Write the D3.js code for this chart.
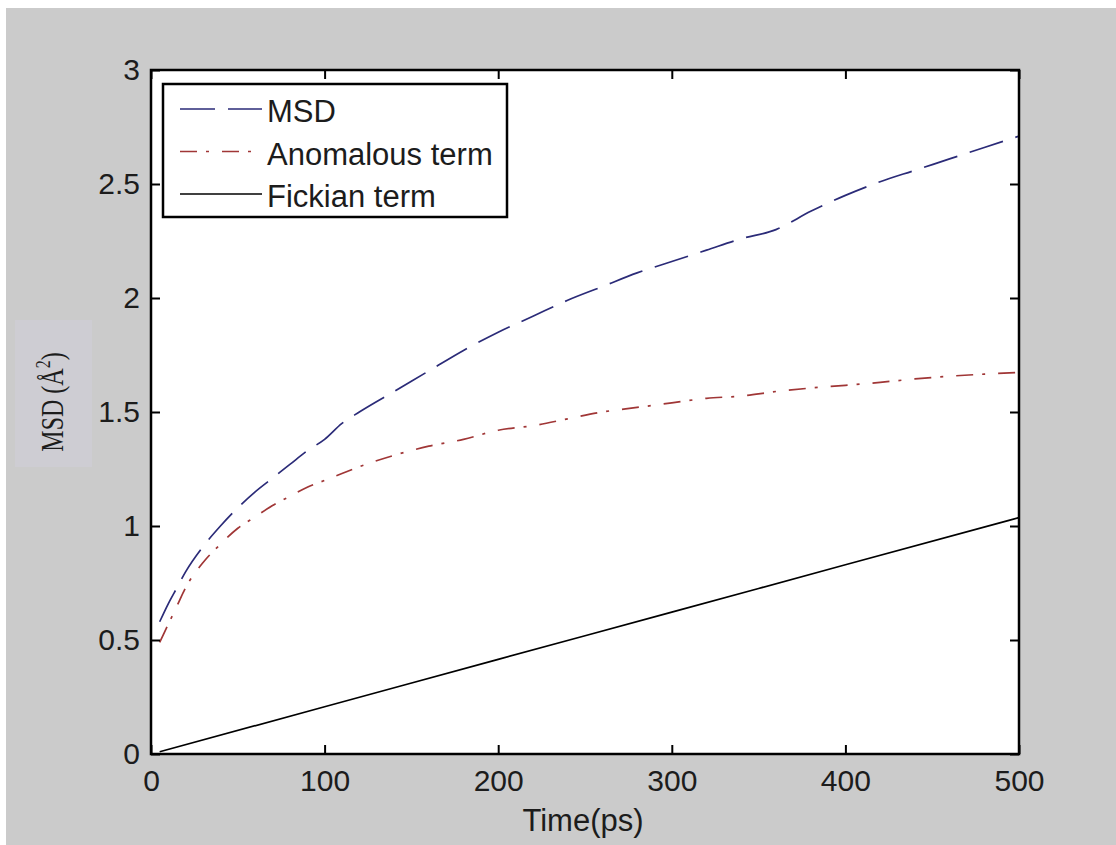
<!DOCTYPE html>
<html lang="en">
<head>
    <meta charset="UTF-8">
    <title>MSD vs Time</title>
    <script src="https://d3js.org/d3.v7.min.js"></script>
    <style>
        body { margin: 0; background: #fff; }
        text { fill: #1c1c1c; }
        .tick line { stroke: #000; stroke-width: 2; }
        .domain { display: none; }
    </style>
</head>
<body>
    <svg width="1116" height="845"></svg>

    <script>
      // time points (ps)
      const timePs = [5, 10, 15, 20, 30, 40, 50, 60, 70, 80, 90, 100, 110, 120, 140, 160, 180,
                      200, 220, 240, 260, 280, 300, 320, 340, 360, 380, 400, 420, 440, 460, 480, 500];
      // total MSD
      const msdVals = [0.58, 0.66, 0.73, 0.80, 0.91, 1.00, 1.08, 1.15, 1.21, 1.27, 1.33, 1.38, 1.45, 1.50, 1.59, 1.68, 1.77,
                       1.85, 1.92, 1.99, 2.05, 2.11, 2.16, 2.21, 2.26, 2.30, 2.38, 2.45, 2.51, 2.56, 2.61, 2.66, 2.71];
      // anomalous term
      const anomVals = [0.49, 0.57, 0.65, 0.73, 0.84, 0.92, 0.99, 1.04, 1.09, 1.13, 1.17, 1.20, 1.23, 1.26, 1.31, 1.35, 1.38,
                        1.42, 1.44, 1.47, 1.50, 1.52, 1.54, 1.56, 1.57, 1.59, 1.605, 1.617, 1.63, 1.645, 1.657, 1.666, 1.673];
      // fickian term (straight line)
      const fickTime = [5, 100, 200, 300, 400, 500];
      const fickVals = [0.01, 0.207, 0.415, 0.622, 0.83, 1.037];

      const xTicks = [0, 100, 200, 300, 400, 500];
      const yTicks = [0, 0.5, 1, 1.5, 2, 2.5, 3];
      const legendNames = ["MSD", "Anomalous term", "Fickian term"];

      const svg = d3.select("svg");
      const font = "'Liberation Sans', Arial, sans-serif";

      // gray figure background
      svg.append("rect").attr("x", 6).attr("y", 8).attr("width", 1110).attr("height", 837).attr("fill", "#cbcbcb");

      const pL = 151, pR = 1019, pT = 70, pB = 754;
      const x = d3.scaleLinear().domain([0, 500]).range([pL, pR]);
      const y = d3.scaleLinear().domain([0, 3]).range([pB, pT]);

      // plot area
      svg.append("rect").attr("x", pL).attr("y", pT)
          .attr("width", pR - pL).attr("height", pB - pT).attr("fill", "#fff");

      const series = [
          { name: legendNames[0], t: timePs, v: msdVals, color: "#2b2b78", dash: "35,13" },
          { name: legendNames[1], t: timePs, v: anomVals, color: "#a03636", dash: "17,9,3,13" },
          { name: legendNames[2], t: fickTime, v: fickVals, color: "#000", dash: null }
      ];

      const line = d3.line().x(d => x(d[0])).y(d => y(d[1])).curve(d3.curveMonotoneX);

      series.forEach(s => {
          svg.append("path")
              .datum(s.t.map((t, i) => [t, s.v[i]]))
              .attr("d", line)
              .attr("fill", "none")
              .attr("stroke", s.color)
              .attr("stroke-width", 1.7)
              .attr("stroke-dasharray", s.dash);
      });

      // axes with inward ticks, mirrored on top/right
      const tk = -9;
      const gx = svg.append("g").attr("transform", `translate(0,${pB})`)
          .call(d3.axisBottom(x).tickValues(xTicks).tickSizeInner(tk).tickSizeOuter(0).tickPadding(16).tickFormat(d3.format("d")));
      const gy = svg.append("g").attr("transform", `translate(${pL},0)`)
          .call(d3.axisLeft(y).tickValues(yTicks).tickSizeInner(tk).tickSizeOuter(0).tickPadding(11).tickFormat(d => String(d)));
      svg.append("g").attr("transform", `translate(0,${pT})`)
          .call(d3.axisTop(x).tickValues(xTicks).tickSizeInner(tk).tickSizeOuter(0).tickFormat(""));
      svg.append("g").attr("transform", `translate(${pR},0)`)
          .call(d3.axisRight(y).tickValues(yTicks).tickSizeInner(tk).tickSizeOuter(0).tickFormat(""));

      [gx, gy].forEach(g => g.selectAll("text")
          .attr("font-family", font).attr("font-size", 30).attr("fill", "#1c1c1c"));

      // frame
      svg.append("rect").attr("x", pL).attr("y", pT)
          .attr("width", pR - pL).attr("height", pB - pT)
          .attr("fill", "none").attr("stroke", "#000").attr("stroke-width", 2.5);

      // x label
      svg.append("text").attr("x", 583).attr("y", 831).attr("text-anchor", "middle")
          .attr("font-family", font).attr("font-size", 31).text("Time(ps)");

      // y label (serif, on a slightly tinted box)
      svg.append("rect").attr("x", 15).attr("y", 320).attr("width", 77).attr("height", 147).attr("fill", "#cecdd3");
      const yl = svg.append("text")
          .attr("transform", "translate(63,402) rotate(-90) scale(1,1.3)")
          .attr("text-anchor", "middle")
          .attr("font-family", "'Liberation Serif', 'Times New Roman', serif")
          .attr("font-size", 24);
      yl.append("tspan").text("MSD (Å");
      yl.append("tspan").attr("font-size", 16).attr("dy", -10).text("2");
      yl.append("tspan").attr("dy", 10).text(")");

      // legend
      const lg = svg.append("g");
      lg.append("rect").attr("x", 163).attr("y", 84).attr("width", 344).attr("height", 133)
          .attr("fill", "#fff").attr("stroke", "#000").attr("stroke-width", 2.5);
      series.forEach((s, i) => {
          const yy = 109 + i * 42.5;
          lg.append("line").attr("x1", 180).attr("x2", 262).attr("y1", yy).attr("y2", yy)
              .attr("stroke", s.color).attr("stroke-width", 1.7).attr("stroke-dasharray", s.dash);
          lg.append("text").attr("x", 267).attr("y", yy + 13)
              .attr("font-family", font).attr("font-size", 31).text(s.name);
      });
  </script>
</body>
</html>
